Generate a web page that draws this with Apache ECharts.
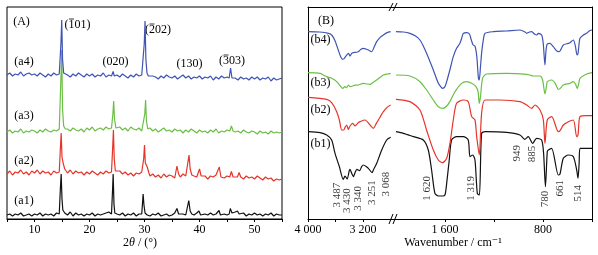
<!DOCTYPE html>
<html>
<head>
<meta charset="utf-8">
<script src="https://cdn.jsdelivr.net/npm/echarts@6/dist/echarts.min.js"></script>
<style>
  html, body { margin: 0; padding: 0; background: #fff; }
  #chart { width: 598px; height: 255px; }
</style>
</head>
<body>
<div id="chart"></div>
<script>
// ---- (A) XRD, 2theta grid every 0.5 deg, baseline ----
var twoTheta = []
for (var i = 0; i <= 100; i++) twoTheta.push(5 + i * 0.5)

var a1Base = [4,5,3,5,4,6,3,4,5,3, 5,4,6,3,5,4,5,3,6,5, 6,5,4,7,3,6,4,5,3,5, 4,6,3,5,4,5,6,7,5,4,
  5,4,6,3,5,4,6,3,5,4, 5,4,3,5,4,6,3,4,5,3, 4,6,5,7,5,4,3,5,4,6, 4,3,5,4,6,4,5,7,3,5,
  4,6,5,7,4,5,6,3,5,4, 6,4,5,3,5,4,6,3,5,4, 4]
var a2Base = [45,48,44,47,46,49,45,47,44,48, 46,49,45,48,46,47,44,48,46,47, 49,47,46,49,45,48,46,47,44,47,
  45,48,46,44,47,45,48,46,49,47, 46,48,45,47,44,46,43,46,45,47, 45,48,43,45,42,44,41,45,42,44,
  43,41,44,42,45,43,44,41,43,42, 44,41,43,40,43,42,44,41,43,41, 43,40,44,42,41,44,40,43,41,42,
  40,43,41,39,42,40,41,38,40,39, 40]
var a3Base = [87,89,86,88,87,90,86,88,87,89, 88,86,89,87,90,88,87,89,88,90, 89,87,90,88,91,89,88,90,87,91,
  89,92,88,90,91,89,92,90,88,91, 90,92,89,91,88,92,90,89,91,88, 90,89,91,88,90,87,89,91,88,89,
  87,90,88,89,86,89,87,90,88,86, 89,87,88,86,89,87,90,86,88,87, 89,86,91,87,88,86,89,87,86,88,
  87,85,88,86,87,85,88,86,87,86, 87]
var a4Base = [144,146,143,145,144,147,143,145,146,144, 145,143,146,144,142,145,143,146,144,145,
  143,146,144,142,145,143,146,144,142,145, 143,145,142,144,143,146,142,144,143,146,
  144,142,145,143,141,144,142,145,143,144, 142,144,141,143,142,140,143,141,144,142,
  141,143,140,142,144,141,143,140,142,141, 143,140,142,141,143,139,142,140,143,141,
  142,140,143,141,139,142,140,141,139,142, 140,142,139,141,140,142,138,141,139,140, 141]

var a1Peaks = [
  [[14.5,5],[14.7,30],[14.85,45],[15.0,20],[15.15,9],[15.5,6]],
  [[24.0,5],[24.2,30],[24.3,45],[24.45,15],[24.6,6]],
  [[29.5,5],[29.75,25],[29.9,14],[30.1,6]],
  [[35.7,5],[35.9,10.5],[36.2,5]],
  [[37.8,5],[38.05,18.5],[38.3,8],[38.6,5]],
  [[39.7,4],[39.9,8],[40.2,4]],
  [[43.3,5],[43.55,8.5],[43.8,4]],
  [[45.4,5],[45.6,10.5],[45.9,6]],
  [[46.7,5],[46.9,8],[47.2,5]]
]
var a2Peaks = [
  [[14.5,47],[14.7,70],[14.85,86],[15.0,62],[15.2,56],[15.5,50],[15.8,48]],
  [[24.0,47],[24.2,70],[24.35,89],[24.5,60],[24.7,48]],
  [[29.6,45],[29.85,60],[30.0,74],[30.15,56],[30.5,52],[30.8,46]],
  [[35.6,44],[35.9,53],[36.2,45]],
  [[37.8,43],[38.1,64],[38.3,50],[38.6,44]],
  [[39.7,42],[40.0,50],[40.3,43]],
  [[43.3,42],[43.6,52],[43.9,42]],
  [[45.5,42],[45.8,47.5],[46.1,42]],
  [[46.9,42],[47.2,46.5],[47.5,42]]
]
var a3Peaks = [
  [[14.6,89],[14.8,140],[14.95,169],[15.1,110],[15.3,93],[15.6,90]],
  [[24.0,91],[24.25,105],[24.4,118],[24.55,100],[24.8,91]],
  [[29.8,90],[30.05,105],[30.2,119],[30.35,98],[30.6,90]],
  [[45.5,88],[45.8,93],[46.1,88]]
]
var a4Peaks = [
  [[14.6,144],[14.8,175],[14.95,199],[15.1,160],[15.3,146],[15.6,144]],
  [[24.1,144],[24.3,147.5],[24.5,143]],
  [[29.7,144],[29.95,175],[30.1,198],[30.25,160],[30.45,146],[30.7,143]],
  [[45.4,141],[45.65,151],[45.9,141]]
]

// ---- (B) FTIR, [wavenumber, offset] (offset grows downwards) ----
var b4Left = [[4000,35],[3830,36],[3700,40],[3656,45],[3607,62],[3560,90],[3525,110],[3496,118],[3475,116],
  [3462,112],[3440,106],[3413,100],[3400,104],[3389,108],[3365,100],[3341,98],[3310,97],[3268,95],[3230,88],
  [3195,85],[3160,87],[3122,90],[3074,95],[3040,82],[3001,65],[2950,52],[2904,45],[2850,38],[2798,35]]
var b4Right = [[2000,35],[1940,36],[1886,40],[1840,48],[1804,60],[1777,78],[1750,100],[1722,125],[1695,150],
  [1654,190],[1630,202],[1619,205],[1600,200],[1586,185],[1560,150],[1532,110],[1505,85],[1478,70],[1464,55],
  [1450,40],[1423,38],[1400,42],[1385,60],[1370,75],[1355,78],[1340,110],[1328,170],[1320,180],[1310,140],
  [1301,100],[1285,55],[1273,40],[1205,35],[1097,33],[988,30],[950,35],[933,40],[910,36],[892,35],[870,42],
  [850,45],[838,40],[811,45],[798,70],[784,135],[775,90],[765,72],[743,70],[716,80],[690,92],[675,95],
  [661,93],[634,75],[593,70],[580,68],[552,60],[535,80],[522,105],[514,100],[505,70],[498,55],[470,45],
  [444,40],[420,32],[400,30]]
var b3Left = [[4000,158],[3825,160],[3777,165],[3728,170],[3656,175],[3583,185],[3530,198],[3496,205],
  [3462,200],[3440,203],[3413,195],[3389,200],[3350,198],[3330,196],[3268,195],[3195,190],[3140,192],
  [3098,193],[3060,188],[3001,180],[2950,172],[2904,165],[2850,162],[2798,160]]
var b3Right = [[2000,165],[1886,168],[1804,185],[1750,210],[1695,240],[1654,260],[1614,265],[1586,258],
  [1560,245],[1518,215],[1464,190],[1423,185],[1382,190],[1347,200],[1330,215],[1320,250],[1310,230],
  [1293,175],[1260,162],[1097,160],[933,163],[900,166],[880,168],[824,168],[803,180],[784,222],[770,195],
  [765,185],[729,180],[700,190],[675,208],[661,206],[634,195],[580,190],[552,185],[535,192],[520,205],
  [505,185],[498,175],[444,162],[400,158]]
var b2Left = [[4000,232],[3728,238],[3656,248],[3583,275],[3544,300],[3510,330],[3480,330],[3462,322],
  [3438,315],[3413,328],[3389,318],[3350,310],[3316,318],[3268,308],[3244,305],[3171,300],[3098,315],
  [3050,325],[3001,308],[2977,300],[2904,275],[2850,262],[2798,255]]
var b2Right = [[2000,238],[1886,245],[1804,270],[1750,330],[1695,390],[1654,420],[1619,428],[1586,415],
  [1559,370],[1532,300],[1505,250],[1450,240],[1410,245],[1382,290],[1355,300],[1341,350],[1320,405],
  [1301,280],[1273,240],[1151,240],[988,245],[933,255],[893,265],[865,255],[824,270],[797,300],[784,370],
  [765,300],[729,290],[675,335],[661,332],[634,315],[593,305],[552,300],[525,350],[514,345],[498,290],
  [444,287],[400,287]]
var b1Left = [[4000,335],[3825,338],[3728,345],[3656,360],[3607,400],[3544,440],[3487,478],[3462,468],
  [3430,477],[3400,452],[3389,448],[3365,460],[3340,470],[3316,458],[3290,448],[3251,452],[3220,440],
  [3195,435],[3150,440],[3122,445],[3068,458],[3050,450],[3001,430],[2928,390],[2856,360],[2798,352]]
var b1Right = [[2000,335],[1940,340],[1858,350],[1777,360],[1736,390],[1709,450],[1682,520],[1654,528],
  [1620,528],[1600,525],[1586,490],[1565,420],[1546,360],[1505,350],[1450,350],[1410,360],[1396,410],
  [1374,405],[1355,420],[1336,520],[1319,525],[1301,340],[1273,335],[1097,337],[988,345],[949,358],
  [920,350],[885,370],[852,355],[811,360],[795,400],[780,500],[765,395],[756,390],[729,385],[675,465],
  [661,462],[634,415],[593,405],[552,410],[525,450],[514,475],[505,430],[498,385],[444,385],[400,385]]

var peakNames = ['3 487','3 430','3 340','3 251','3 068','1 620','1 319','949','885','780','661','514']

// where each rotated label sits (data coords of its centre)
var peakLabelLeft = [[3583,525],[3437,542],[3268,535],[3073,518],[2865,492]]
var peakLabelRight = [[1749,505],[1390,505],[1015,400],[892,402],[784,537],[661,505],[512,520]]

var col = { k: '#111111', r: '#e5352a', g: '#6bbf45', b: '#3f54b4' }
var serif = '"Liberation Serif", "DejaVu Serif", serif'

function merge(base, peaks) {
  var pts = twoTheta.map(function (x, i) { return [x, base[i]] })
  peaks.forEach(function (pk) {
    var x0 = pk[0][0], x1 = pk[pk.length - 1][0]
    pts = pts.filter(function (p) { return p[0] < x0 || p[0] > x1 }).concat(pk)
  })
  return pts.sort(function (a, b) { return a[0] - b[0] })
}

function thousands(v) {
  return v >= 1000 ? String(v).replace(/(\d)(\d{3})$/, '$1 $2') : String(v)
}

function xrd(data, c) {
  return { type: 'line', xAxisIndex: 0, yAxisIndex: 0, data: data, showSymbol: false,
    lineStyle: { color: c, width: 1.2 }, silent: true }
}
function ftir(data, c, idx) {
  return { type: 'line', xAxisIndex: idx, yAxisIndex: idx, data: data, showSymbol: false, smooth: 0.25,
    lineStyle: { color: c, width: 1.2 }, silent: true }
}
function labels(pos, names, idx) {
  return { type: 'scatter', xAxisIndex: idx, yAxisIndex: idx, symbolSize: 0, silent: true,
    data: pos.map(function (p, i) { return { name: names[i], value: p } }),
    label: { show: true, formatter: '{b}', rotate: 90, position: 'inside', align: 'center',
      verticalAlign: 'middle', fontFamily: serif, fontSize: 11, color: '#000' } }
}

var axisCommon = {
  type: 'value', splitLine: { show: false },
  axisLine: { show: true, onZero: false, lineStyle: { color: '#000', width: 1 } },
  axisTick: { show: true, inside: false, length: 3, lineStyle: { color: '#000' } },
  axisLabel: { color: '#000', fontFamily: serif, fontSize: 12, margin: 5 }
}
function ax(extra) { return Object.assign({}, JSON.parse(JSON.stringify(axisCommon)), extra) }
function topLine(idx, mn, mx) {
  return ax({ gridIndex: idx, position: 'top', min: mn, max: mx, inverse: true,
    axisTick: { show: false }, axisLabel: { show: false } })
}

function txt(x, y, text, size, extra) {
  return { type: 'text', x: x, y: y, silent: true,
    style: Object.assign({ text: text, fill: '#000', font: (size || 12) + 'px ' + serif,
      align: 'center', verticalAlign: 'middle' }, extra || {}) }
}
// short bar over the first index of a Miller label, e.g. (-1 0 1)
function bar(x1, x2, y) {
  return { type: 'line', silent: true, shape: { x1: x1, y1: y, x2: x2, y2: y },
    style: { stroke: '#000', lineWidth: 0.8 } }
}
function brk(x1, y1, x2, y2) {
  return { type: 'line', silent: true, shape: { x1: x1, y1: y1, x2: x2, y2: y2 },
    style: { stroke: '#000', lineWidth: 1 } }
}

var chart = echarts.init(document.getElementById('chart'), null, { renderer: 'canvas' })
var option = {
  animation: false,
  backgroundColor: '#fff',
  grid: [
    { left: 7, right: 316, top: 7, bottom: 36, show: true, borderColor: '#000', borderWidth: 1 },
    { left: 308, right: 205, top: 7, bottom: 36 },
    { left: 393, right: 6, top: 7, bottom: 36 }
  ],
  xAxis: [
    ax({ gridIndex: 0, min: 5, max: 55, interval: 5,
      axisLabel: { color: '#000', fontFamily: serif, fontSize: 12, margin: 5,
        formatter: function (v) { return v % 10 === 0 ? v : '' } } }),
    ax({ gridIndex: 1, min: 2764, max: 4000, inverse: true,
      axisTick: { show: true, length: 3, customValues: [3200, 3600, 4000], lineStyle: { color: '#000' } },
      axisLabel: { color: '#000', fontFamily: serif, fontSize: 12, margin: 5,
        customValues: [3200, 4000], formatter: thousands } }),
    ax({ gridIndex: 2, min: 400, max: 2024, inverse: true,
      axisTick: { show: true, length: 3, customValues: [400, 800, 1200, 1600], lineStyle: { color: '#000' } },
      axisLabel: { color: '#000', fontFamily: serif, fontSize: 12, margin: 5,
        customValues: [800, 1600], formatter: thousands } }),
    topLine(1, 2764, 4000),
    topLine(2, 400, 2024)
  ],
  yAxis: [
    { type: 'value', gridIndex: 0, min: 0, max: 212, show: false },
    ax({ gridIndex: 1, min: -39, max: 597, inverse: true, axisTick: { show: false }, axisLabel: { show: false } }),
    ax({ gridIndex: 2, position: 'right', min: -39, max: 597, inverse: true,
      axisTick: { show: false }, axisLabel: { show: false } })
  ],
  series: [
    xrd(merge(a1Base, a1Peaks), col.k),
    xrd(merge(a2Base, a2Peaks), col.r),
    xrd(merge(a3Base, a3Peaks), col.g),
    xrd(merge(a4Base, a4Peaks), col.b),
    ftir(b1Left, col.k, 1), ftir(b1Right, col.k, 2),
    ftir(b2Left, col.r, 1), ftir(b2Right, col.r, 2),
    ftir(b3Left, col.g, 1), ftir(b3Right, col.g, 2),
    ftir(b4Left, col.b, 1), ftir(b4Right, col.b, 2),
    labels(peakLabelLeft, peakNames.slice(0, 5), 1),
    labels(peakLabelRight, peakNames.slice(5), 2)
  ],
  graphic: [
    txt(21.5, 22, '(A)'),
    txt(24, 62, '(a4)'), txt(24, 116, '(a3)'), txt(24, 161, '(a2)'), txt(24, 201, '(a1)'),
    txt(77.5, 25, '(101)'), bar(69, 74, 19),
    txt(115.5, 62, '(020)'),
    txt(158, 30, '(202)'), bar(149.5, 154.5, 24),
    txt(189.5, 64, '(130)'),
    txt(232, 61, '(303)'), bar(223.5, 228.5, 55),
    { type: 'text', x: 140, y: 243, silent: true,
      style: { text: '2{i|\u03b8} / (\u00b0)', fill: '#000', font: '12px ' + serif, align: 'center',
        verticalAlign: 'middle', rich: { i: { fontStyle: 'italic', fontFamily: serif, fontSize: 12 } } } },
    txt(326, 21, '(B)'),
    txt(320.5, 40, '(b4)'), txt(320.5, 83, '(b3)'), txt(320.5, 110, '(b2)'), txt(320.5, 144, '(b1)'),
    txt(453, 243, 'Wavenumber / cm\u207b\u00b9'),
    // axis break marks
    brk(389, 11, 393, 3), brk(393, 11, 397, 3),
    brk(389, 224, 393, 214), brk(393, 224, 397, 214)
  ]
}
chart.setOption(option)
</script>
</body>
</html>
